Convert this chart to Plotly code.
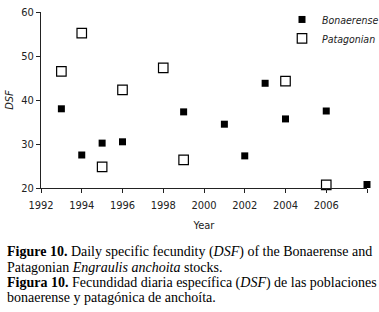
import plotly.graph_objects as go

bon_years = [1993, 1994, 1995, 1996, 1999, 2001, 2002, 2003, 2004, 2006, 2008]
bon_dsf = [38.0, 27.5, 30.2, 30.5, 37.3, 34.5, 27.3, 43.8, 35.7, 37.5, 20.8]
pat_years = [1993, 1994, 1995, 1996, 1998, 1999, 2004, 2006]
pat_dsf = [46.5, 55.2, 24.8, 42.3, 47.3, 26.4, 44.3, 20.7]
x_ticks = [1992, 1994, 1996, 1998, 2000, 2002, 2004, 2006, 2008]
y_ticks = [20, 30, 40, 50, 60]

narrow = "DejaVu Sans Condensed, Liberation Sans Narrow, Arial Narrow, Liberation Sans, Arial"
serif = "Liberation Serif, Times New Roman, serif"

fig = go.Figure()
fig.add_trace(go.Scatter(x=bon_years, y=bon_dsf, mode="markers", name="<i>Bonaerense</i>",
                         marker=dict(symbol="square", size=7, color="black", line=dict(width=0)),
                         cliponaxis=False))
fig.add_trace(go.Scatter(x=pat_years, y=pat_dsf, mode="markers", name="<i>Patagonian</i>",
                         marker=dict(symbol="square-open", size=9.5, color="black", line=dict(width=1.2)),
                         cliponaxis=False))

fig.update_layout(
    width=379, height=312,
    margin=dict(l=41, r=12, t=12, b=124, autoexpand=False),
    paper_bgcolor="white", plot_bgcolor="white",
    font=dict(family=narrow, size=11, color="#222"),
    showlegend=True,
    legend=dict(x=(282 - 41) / 326, y=1.04, xanchor="left", yanchor="top", bgcolor="rgba(0,0,0,0)",
                font=dict(family=narrow, size=10.5, color="#222"), itemwidth=30, tracegroupgap=0),
    xaxis=dict(range=[1992, 2008], tickvals=x_ticks, showline=True, linecolor="#222", linewidth=1,
               ticks="outside", ticklen=4, tickcolor="#222", showgrid=False, zeroline=False,
               automargin=False, ticklabelstandoff=3,
               title=dict(text="Year", standoff=10, font=dict(family=narrow, size=11))),
    yaxis=dict(range=[20, 60], tickvals=y_ticks, showline=True, linecolor="#222", linewidth=1,
               ticks="outside", ticklen=4, tickcolor="#222", showgrid=False, zeroline=False,
               automargin=False,
               title=dict(text="<i>DSF</i>", standoff=5, font=dict(family=narrow, size=11))),
)

captions = [
    ("<b>Figure 10.</b> Daily specific fecundity (<i>DSF</i>) of the Bonaerense and", 252),
    ("Patagonian <i>Engraulis anchoita</i> stocks.", 267),
    ("<b>Figura 10.</b> Fecundidad diaria específica (<i>DSF</i>) de las poblaciones", 283),
    ("bonaerense y patagónica de anchoíta.", 297),
]
for text, ypx in captions:
    fig.add_annotation(text=text, xref="paper", yref="paper", x=-36/326, y=(188 - ypx) / 176,
                       xanchor="left", yanchor="middle", showarrow=False,
                       font=dict(family=serif, size=14, color="black"))

fig.write_html("out.html", config={"displayModeBar": False},
               post_script="document.body.style.margin='0px';document.body.style.overflow='hidden';")
